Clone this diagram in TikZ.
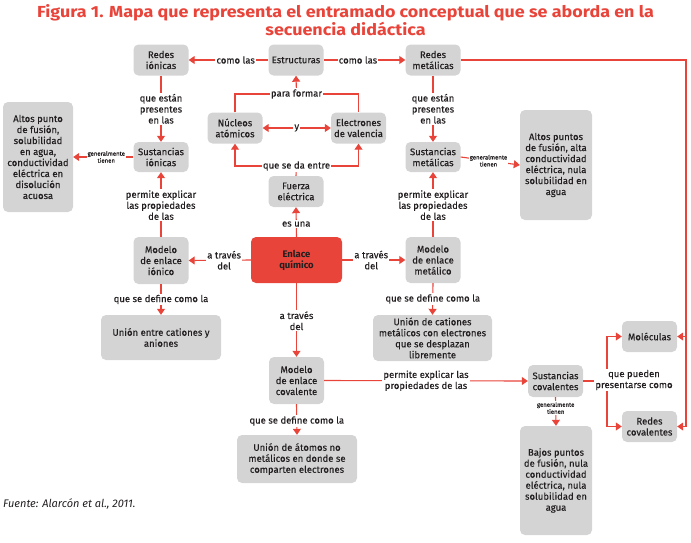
\documentclass[tikz,border=0pt]{standalone}
\usepackage{fontspec}
\setmainfont{Fira Sans}[UprightFeatures={FakeBold=0.12}]
\newfontfamily\titlefont[FakeStretch=1.12]{Fira Sans}
\usetikzlibrary{arrows.meta,calc}
\definecolor{redc}{HTML}{E8443A}
\definecolor{boxg}{HTML}{D4D4D4}
\definecolor{txt}{HTML}{231F20}
\begin{document}
\begin{tikzpicture}[x=1pt,y=-1pt,
  box/.style={fill=boxg, rounded corners=5pt, align=center, text=txt,
    font=\fontsize{9.5}{11}\selectfont, inner sep=0pt, minimum width=55pt, minimum height=31pt},
  lbl/.style={fill=white, align=center, text=txt, font=\fontsize{9.5}{11}\selectfont, inner sep=1pt},
  sml/.style={fill=white, align=center, text=txt, font=\fontsize{6}{7}\selectfont, inner sep=1pt},
  ln/.style={draw=redc, line width=1.1pt},
  arr/.style={ln, -{Triangle[width=8pt,length=6pt]}},
  darr/.style={ln, {Triangle[width=8pt,length=6pt]}-{Triangle[width=8pt,length=6pt]}}
]
\useasboundingbox (0,0) rectangle (691,542);
% title
\node[text=redc, font=\titlefont\bfseries\fontsize{16}{18.5}\selectfont, align=center] (title) at (345.5,20)
  {Figura 1. Mapa que representa el entramado conceptual que se aborda en la\\secuencia didáctica};
% nodes
\node[box] (ri) at (161,60) {Redes\\iónicas};
\node[box] (est) at (296,60) {Estructuras};
\node[box] (rm) at (433,60) {Redes\\metálicas};
\node[box] (nu) at (235,128) {Núcleos\\atómicos};
\node[box] (el) at (358.5,128) {Electrones\\de valencia};
\node[box, minimum width=70pt, minimum height=110pt] (al) at (38,157)
  {Altos punto\\de fusión,\\solubilidad\\en agua,\\conductividad\\eléctrica en\\disolución\\acuosa};
\node[box, minimum height=30pt] (si) at (161,157) {Sustancias\\iónicas};
\node[box, minimum height=30pt] (sm) at (433,157) {Sustancias\\metálicas};
\node[box, minimum width=72pt, minimum height=110pt] (am) at (556,165)
  {Altos puntos\\de fusión, alta\\conductividad\\eléctrica, nula\\solubilidad en\\agua};
\node[box] (fe) at (296,191.5) {Fuerza\\eléctrica};
\node[box, fill=redc, minimum width=91pt, minimum height=46pt, font=\bfseries\fontsize{9.5}{11}\selectfont] (en) at (296.5,260) {Enlace\\químico};
\node[box, minimum height=47pt] (mi) at (161,260.5) {Modelo\\de enlace\\iónico};
\node[box, minimum height=46pt] (mm) at (433,260) {Modelo\\de enlace\\metálico};
\node[box, minimum width=120pt, minimum height=45pt] (ui) at (161,337.5) {Unión entre cationes y\\aniones};
\node[box, minimum width=119pt, minimum height=46pt] (um) at (432.5,338) {Unión de cationes\\metálicos con electrones\\que se desplazan\\libremente};
\node[box, minimum height=47pt] (mc) at (296.5,380.5) {Modelo\\de enlace\\covalente};
\node[box, minimum height=32pt] (sc) at (555.5,381) {Sustancias\\covalentes};
\node[box] (mo) at (649.5,336.5) {Moléculas};
\node[box] (rc) at (649.5,426.5) {Redes\\covalentes};
\node[box, minimum width=120pt, minimum height=48pt] (ua) at (297,459) {Unión de átomos no\\metálicos en donde se\\comparten electrones};
\node[box, minimum width=72pt, minimum height=109pt] (bj) at (556,480.5)
  {Bajos puntos\\de fusión, nula\\conductividad\\eléctrica, nula\\solubilidad en\\agua};
\node[anchor=west, text=txt, font=\itshape\fontsize{11}{13}\selectfont, inner sep=0pt] (src) at (3,504) {Fuente: Alarcón et al., 2011.};
% coordinates
\coordinate (pf) at (296.5,94);
\coordinate (qe) at (296.5,166);
\coordinate (br) at (607,381);
\coordinate (cr) at (686,426.5);
% connectors
\draw[arr] (est.west) -- (ri.east) node[lbl,pos=0.41] {como las};
\draw[arr] (est.east) -- (rm.west) node[lbl,pos=0.42] {como las};
\draw[arr] (ri.south) -- (si.north) node[lbl,midway] {que están\\presentes\\en las};
\draw[arr] (rm.south) -- (sm.north) node[lbl,midway] {que están\\presentes\\en las};
\draw[arr] (si.west) -- (al.east) node[sml,pos=0.45] {generalmente\\tienen};
\draw[arr] (sm.east) -- (am.west) node[sml,pos=0.47] {generalmente\\tienen};
\draw[ln] (nu.north) |- (pf) -| (el.north);
\draw[arr] (pf) -- (est.south);
\node[lbl] at (pf) {para formar};
\draw[darr] (nu.east) -- (el.west) node[lbl,midway] {y};
\draw[ln] (fe.north) -- (qe);
\draw[arr] (qe) -| (nu.south);
\draw[arr] (qe) -| (el.south);
\node[lbl] at (qe) {que se da entre};
\draw[arr] (en.north) -- (fe.south) node[lbl,pos=0.43] {es una};
\draw[arr] (mi.north) -- (si.south) node[lbl,pos=0.49] {permite explicar\\las propiedades\\de las};
\draw[arr] (mm.north) -- (sm.south) node[lbl,pos=0.49] {permite explicar\\las propiedades\\de las};
\draw[arr] (en.west) -- (mi.east) node[lbl,pos=0.43] {a través\\del};
\draw[arr] (en.east) -- (mm.west) node[lbl,pos=0.46] {a través\\del};
\draw[arr] (mi.south) -- (ui.north) node[lbl,midway] {que se define como la};
\draw[arr] (mm.south) -- (um.north) node[lbl,midway] {que se define como la};
\draw[arr] (en.south) -- (mc.north) node[lbl,pos=0.51] {a través\\del};
\draw[arr] (mc.south) -- (ua.north) node[lbl,pos=0.55] {que se define como la};
\draw[arr] (mc.east) -- (sc.west) node[lbl,pos=0.5] {permite explicar las\\propiedades de las};
\draw[arr] (sc.south) -- (bj.north) node[sml,pos=0.38] {generalmente\\tienen};
\draw[ln] (sc.east) -- (br);
\draw[arr] (br) |- (mo.west);
\draw[arr] (br) |- (rc.west);
\node[lbl] at (634,380) {que pueden\\presentarse como};
\draw[arr] (rm.east) -| (cr) -- (rc.east);
\draw[arr] (mo.east -| cr) -- (mo.east);
\end{tikzpicture}
\end{document}
